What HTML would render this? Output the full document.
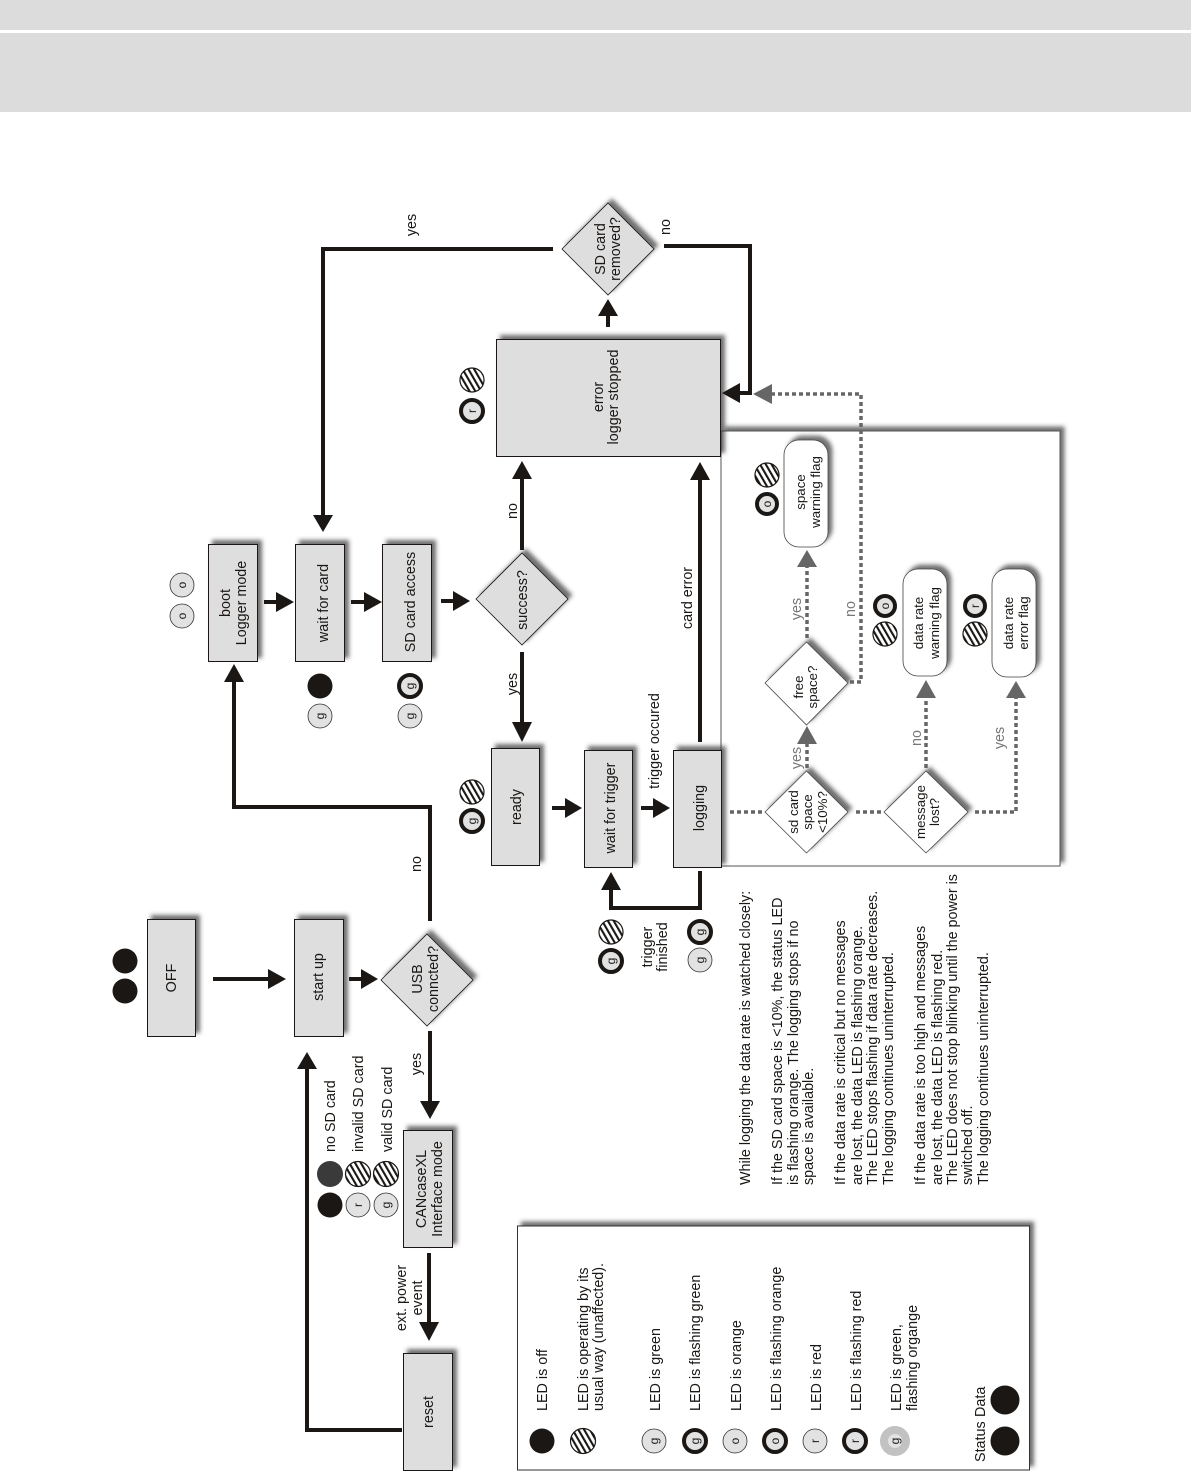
<!DOCTYPE html>
<html><head><meta charset="utf-8"><style>
html,body{margin:0;padding:0;background:#fff}
svg{display:block}
text{font-family:"Liberation Sans",sans-serif;font-size:14.35px;fill:#1a1714}
.m{text-anchor:middle}
.sm{font-size:13.3px}
.gy{fill:#777}
.l{font-size:12px;text-anchor:middle}
.b{fill:#dedede;stroke:#1a1714;stroke-width:1}
.w{fill:#fff;stroke:#444;stroke-width:.8}
.k{fill:none;stroke:#1a1714;stroke-width:4}
.a{fill:#1a1714}
.g{fill:none;stroke:#666;stroke-width:3.5;stroke-dasharray:4 3}
.ga{fill:#666}
.off{fill:#1a1714}
.h{fill:url(#ht);stroke:#1a1714;stroke-width:1.2}
.pl{fill:#e2e2e2;stroke:#333;stroke-width:.8}
.fl{fill:#e2e2e2;stroke:#1a1714;stroke-width:4}
</style></head><body>
<svg width="1191" height="1471" viewBox="0 0 1191 1471" xmlns="http://www.w3.org/2000/svg">
<defs>
<filter id="s" x="-20%" y="-20%" width="140%" height="140%"><feDropShadow dx="4" dy="-4" stdDeviation="2" flood-color="#333" flood-opacity=".7"/></filter>
<pattern id="ht" width="5" height="5" patternUnits="userSpaceOnUse" patternTransform="rotate(-30)"><rect width="5" height="5" fill="#fff"/><rect width="2.1" height="5" fill="#1a1714"/></pattern>
</defs>
<rect width="1191" height="1471" fill="#fff"/>
<rect x="0" y="0" width="1191" height="30" fill="#dcdcdc"/>
<rect x="0" y="33" width="1191" height="79" fill="#dcdcdc"/>

<!-- panels -->
<rect x="721" y="431" width="339" height="435" fill="#fff" stroke="#555" stroke-width="1" filter="url(#s)"/>
<rect x="517.5" y="1226" width="512" height="244" fill="#fff" stroke="#333" stroke-width="1" filter="url(#s)"/>

<!-- process boxes -->
<g filter="url(#s)">
<rect class="b" x="147.5" y="919.5" width="48" height="117"/>
<rect class="b" x="294.5" y="919.5" width="49" height="117"/>
<rect class="b" x="403.5" y="1130.5" width="49" height="117"/>
<rect class="b" x="403.5" y="1353.5" width="49" height="117"/>
<rect class="b" x="208.5" y="544.5" width="49" height="117"/>
<rect class="b" x="295.5" y="544.5" width="49" height="117"/>
<rect class="b" x="382.5" y="544.5" width="49" height="117"/>
<rect class="b" x="491.5" y="748.5" width="48" height="117"/>
<rect class="b" x="584.5" y="750.5" width="48" height="117"/>
<rect class="b" x="673.5" y="750.5" width="48" height="117"/>
<rect class="b" x="496.5" y="339.5" width="224" height="117"/>
<polygon class="b" style="stroke-width:.8" points="381,980 427,934 473,980 427,1026"/>
<polygon class="b" style="stroke-width:.8" points="476,599 522,553 568,599 522,645"/>
<polygon class="b" style="stroke-width:.8" points="562,249 608,203 654,249 608,295"/>
<polygon class="w" points="765,812 806.5,771 848,812 806.5,853"/>
<polygon class="w" points="884,812 926,771 968,812 926,853"/>
<polygon class="w" points="765,683 806.5,642 848,683 806.5,725"/>
<rect class="w" x="784" y="440" width="44" height="107" rx="15"/>
<rect class="w" x="903" y="569" width="44" height="107" rx="15"/>
<rect class="w" x="992" y="569" width="44" height="108" rx="15"/>
</g>

<!-- black connectors -->
<path class="k" d="M213 979H270M349 979H363M430 1031V1103M429 1253V1324M264 602H278M351 602H366M441 601H455M522 550V477M522 652V724M552 808H567M641 808H655M700 742V478M608 327V314"/>
<path class="k" d="M430 921V807H234V680M402 1430H307V1067M700 871V908H611V888M553 249H323V517M664 246H750V393H738"/>
<g class="a">
<polygon points="268,969 286,979 268,989"/>
<polygon points="361,969 378,979 361,989"/>
<polygon points="420,1101 440,1101 430,1119"/>
<polygon points="419,1322 439,1322 429,1341"/>
<polygon points="224,682 244,682 234,664"/>
<polygon points="297,1069 317,1069 307,1052"/>
<polygon points="276,592 294,602 276,612"/>
<polygon points="364,592 382,602 364,612"/>
<polygon points="453,591 470,601 453,611"/>
<polygon points="512,479 532,479 522,461"/>
<polygon points="512,722 532,722 522,742"/>
<polygon points="565,798 582,808 565,818"/>
<polygon points="653,798 670,808 653,818"/>
<polygon points="601,890 621,890 611,872"/>
<polygon points="690,480 710,480 700,462"/>
<polygon points="598,316 618,316 608,299"/>
<polygon points="313,515 333,515 323,532"/>
<polygon points="740,383 740,403 722,393"/>
</g>

<!-- dotted connectors -->
<path class="g" d="M730 812H762M856 812H884M975 812H1016V698M926 768V698M807 768V744M807 638V567M850 682H861V394H772"/>
<g class="ga">
<polygon points="1006,698 1026,698 1016,681"/>
<polygon points="916,698 936,698 926,680"/>
<polygon points="797,744 817,744 807,726"/>
<polygon points="797,567 817,567 807,550"/>
<polygon points="772,384 772,404 753,394"/>
</g>

<!-- box labels -->
<text class="m" transform="translate(176 978) rotate(-90)">OFF</text>
<text class="m" transform="translate(323 977) rotate(-90)">start up</text>
<text class="m" transform="translate(422 979) rotate(-90)">USB</text>
<text class="m" transform="translate(438 979) rotate(-90)">conncted?</text>
<text class="m" transform="translate(426 1189) rotate(-90)">CANcaseXL</text>
<text class="m" transform="translate(442 1189) rotate(-90)">Interface mode</text>
<text class="m" transform="translate(433 1412) rotate(-90)">reset</text>
<text class="m" transform="translate(230 603) rotate(-90)">boot</text>
<text class="m" transform="translate(246 603) rotate(-90)">Logger mode</text>
<text class="m" transform="translate(328 603) rotate(-90)">wait for card</text>
<text class="m" transform="translate(415 602) rotate(-90)">SD card access</text>
<text class="m" transform="translate(527 600) rotate(-90)">success?</text>
<text class="m" transform="translate(521 807) rotate(-90)">ready</text>
<text class="m" transform="translate(615 808) rotate(-90)">wait for trigger</text>
<text class="m" transform="translate(704 808) rotate(-90)">logging</text>
<text class="m" transform="translate(603 397) rotate(-90)">error</text>
<text class="m" transform="translate(618 397) rotate(-90)">logger stopped</text>
<text class="m" transform="translate(605 249) rotate(-90)">SD card</text>
<text class="m" transform="translate(620 249) rotate(-90)">removed?</text>
<text class="m sm" transform="translate(798 812) rotate(-90)">sd card</text>
<text class="m sm" transform="translate(812 812) rotate(-90)">space</text>
<text class="m sm" transform="translate(827 812) rotate(-90)">&lt;10%?</text>
<text class="m sm" transform="translate(803 687) rotate(-90)">free</text>
<text class="m sm" transform="translate(817 687) rotate(-90)">space?</text>
<text class="m sm" transform="translate(925 812) rotate(-90)">message</text>
<text class="m sm" transform="translate(939 812) rotate(-90)">lost?</text>
<text class="m sm" transform="translate(805 492) rotate(-90)">space</text>
<text class="m sm" transform="translate(820 492) rotate(-90)">warning flag</text>
<text class="m sm" transform="translate(923 623) rotate(-90)">data rate</text>
<text class="m sm" transform="translate(939 623) rotate(-90)">warning flag</text>
<text class="m sm" transform="translate(1013 623) rotate(-90)">data rate</text>
<text class="m sm" transform="translate(1028 623) rotate(-90)">error flag</text>

<!-- connector labels -->
<text class="m" transform="translate(416 225) rotate(-90)">yes</text>
<text class="m" transform="translate(670 227) rotate(-90)">no</text>
<text class="m" transform="translate(517 511) rotate(-90)">no</text>
<text class="m" transform="translate(517 684) rotate(-90)">yes</text>
<text class="m" transform="translate(692 598) rotate(-90)">card error</text>
<text class="m" transform="translate(659 741) rotate(-90)">trigger occured</text>
<text class="m" transform="translate(421 864) rotate(-90)">no</text>
<text class="m" transform="translate(421 1064) rotate(-90)">yes</text>
<text class="m" transform="translate(406 1298) rotate(-90)">ext. power</text>
<text class="m" transform="translate(422 1298) rotate(-90)">event</text>
<text class="m" transform="translate(652 947) rotate(-90)">trigger</text>
<text class="m" transform="translate(667 947) rotate(-90)">finished</text>
<text transform="translate(335 1152) rotate(-90)">no SD card</text>
<text transform="translate(363 1152) rotate(-90)">invalid SD card</text>
<text transform="translate(392 1152) rotate(-90)">valid SD card</text>
<text class="m gy" transform="translate(801 609) rotate(-90)">yes</text>
<text class="m gy" transform="translate(855 609) rotate(-90)">no</text>
<text class="m gy" transform="translate(801 758) rotate(-90)">yes</text>
<text class="m gy" transform="translate(921 738) rotate(-90)">no</text>
<text class="m gy" transform="translate(1004 738) rotate(-90)">yes</text>

<!-- LEDs in the flow -->
<circle class="off" cx="125" cy="961" r="12.5"/><circle class="off" cx="125" cy="991" r="12.5"/>
<circle class="pl" cx="182" cy="585" r="12"/><text class="l" transform="translate(186 585) rotate(-90)">o</text>
<circle class="pl" cx="182" cy="616" r="12"/><text class="l" transform="translate(186 616) rotate(-90)">o</text>
<circle class="off" cx="320" cy="686" r="12.5"/>
<circle class="pl" cx="320" cy="716" r="12"/><text class="l" transform="translate(324 716) rotate(-90)">g</text>
<circle class="fl" cx="410" cy="686" r="11"/><text class="l" transform="translate(414 686) rotate(-90)">g</text>
<circle class="pl" cx="410" cy="716" r="12"/><text class="l" transform="translate(414 716) rotate(-90)">g</text>
<circle class="h" cx="472" cy="792" r="12"/>
<circle class="fl" cx="472" cy="821" r="11"/><text class="l" transform="translate(476 821) rotate(-90)">g</text>
<circle class="h" cx="472" cy="380" r="12"/>
<circle class="fl" cx="472" cy="411" r="11"/><text class="l" transform="translate(476 411) rotate(-90)">r</text>
<circle class="h" cx="611" cy="932" r="12"/>
<circle class="fl" cx="611" cy="961" r="11"/><text class="l" transform="translate(615 961) rotate(-90)">g</text>
<circle class="fl" cx="700" cy="932" r="11"/><text class="l" transform="translate(704 932) rotate(-90)">g</text>
<circle class="pl" cx="700" cy="960" r="12"/><text class="l" transform="translate(704 960) rotate(-90)">g</text>
<circle class="h" cx="767" cy="475" r="12"/>
<circle class="fl" cx="767" cy="504" r="10"/><text class="l" transform="translate(771 504) rotate(-90)">o</text>
<circle class="fl" cx="885" cy="606" r="10"/><text class="l" transform="translate(889 606) rotate(-90)">o</text>
<circle class="h" cx="885" cy="634" r="12"/>
<circle class="fl" cx="975" cy="606" r="10"/><text class="l" transform="translate(979 606) rotate(-90)">r</text>
<circle class="h" cx="975" cy="634" r="12"/>
<circle cx="330" cy="1174" r="13" fill="#3a3a3a"/>
<circle class="h" cx="358" cy="1174" r="12.5"/>
<circle class="h" cx="386" cy="1174" r="12.5"/>
<circle class="off" cx="330" cy="1205" r="12.5"/>
<circle class="pl" cx="358" cy="1205" r="12"/><text class="l" transform="translate(362 1205) rotate(-90)">r</text>
<circle class="pl" cx="386" cy="1205" r="12"/><text class="l" transform="translate(390 1205) rotate(-90)">g</text>

<!-- legend -->
<circle class="off" cx="542" cy="1441" r="12.5"/>
<circle class="h" cx="583" cy="1441" r="12.5"/>
<circle class="pl" cx="654" cy="1441" r="12"/><text class="l" transform="translate(658 1441) rotate(-90)">g</text>
<circle class="fl" cx="695" cy="1441" r="11"/><text class="l" transform="translate(699 1441) rotate(-90)">g</text>
<circle class="pl" cx="735" cy="1441" r="12"/><text class="l" transform="translate(739 1441) rotate(-90)">o</text>
<circle class="fl" cx="775" cy="1441" r="11"/><text class="l" transform="translate(779 1441) rotate(-90)">o</text>
<circle class="pl" cx="815" cy="1441" r="12"/><text class="l" transform="translate(819 1441) rotate(-90)">r</text>
<circle class="fl" cx="855" cy="1441" r="11"/><text class="l" transform="translate(859 1441) rotate(-90)">r</text>
<circle cx="895" cy="1441" r="11" fill="#e2e2e2" stroke="#c2c2c2" stroke-width="8"/><text class="l" transform="translate(899 1441) rotate(-90)">g</text>
<circle class="off" cx="1005" cy="1400" r="14.5"/>
<circle class="off" cx="1005" cy="1441" r="14.5"/>
<text transform="translate(547 1411) rotate(-90)">LED is off</text>
<text transform="translate(588 1411) rotate(-90)">LED is operating by its</text>
<text transform="translate(603 1411) rotate(-90)">usual way (unaffected).</text>
<text transform="translate(660 1411) rotate(-90)">LED is green</text>
<text transform="translate(700 1411) rotate(-90)">LED is flashing green</text>
<text transform="translate(741 1411) rotate(-90)">LED is orange</text>
<text transform="translate(781 1411) rotate(-90)">LED is flashing orange</text>
<text transform="translate(821 1411) rotate(-90)">LED is red</text>
<text transform="translate(861 1411) rotate(-90)">LED is flashing red</text>
<text transform="translate(901 1411) rotate(-90)">LED is green,</text>
<text transform="translate(917 1411) rotate(-90)">flashing organge</text>
<text transform="translate(985 1462) rotate(-90)">Status</text>
<text transform="translate(985 1417) rotate(-90)">Data</text>

<!-- paragraph -->
<text transform="translate(750 1185) rotate(-90)">While logging the data rate is watched closely:</text>
<text transform="translate(782 1185) rotate(-90)">If the SD card space is &lt;10%, the status LED</text>
<text transform="translate(798 1185) rotate(-90)">is flashing orange. The logging stops if no</text>
<text transform="translate(813 1185) rotate(-90)">space is available.</text>
<text transform="translate(845 1185) rotate(-90)">If the data rate is critical but no messages</text>
<text transform="translate(862 1185) rotate(-90)">are lost, the data LED is flashing orange.</text>
<text transform="translate(877 1185) rotate(-90)">The LED stops flashing if data rate decreases.</text>
<text transform="translate(893 1185) rotate(-90)">The logging continues uninterrupted.</text>
<text transform="translate(925 1185) rotate(-90)">If the data rate is too high and messages</text>
<text transform="translate(942 1185) rotate(-90)">are lost, the data LED is flashing red.</text>
<text transform="translate(957 1185) rotate(-90)">The LED does not stop blinking until the power is</text>
<text transform="translate(972 1185) rotate(-90)">switched off.</text>
<text transform="translate(988 1185) rotate(-90)">The logging continues uninterrupted.</text>
</svg>
</body></html>
